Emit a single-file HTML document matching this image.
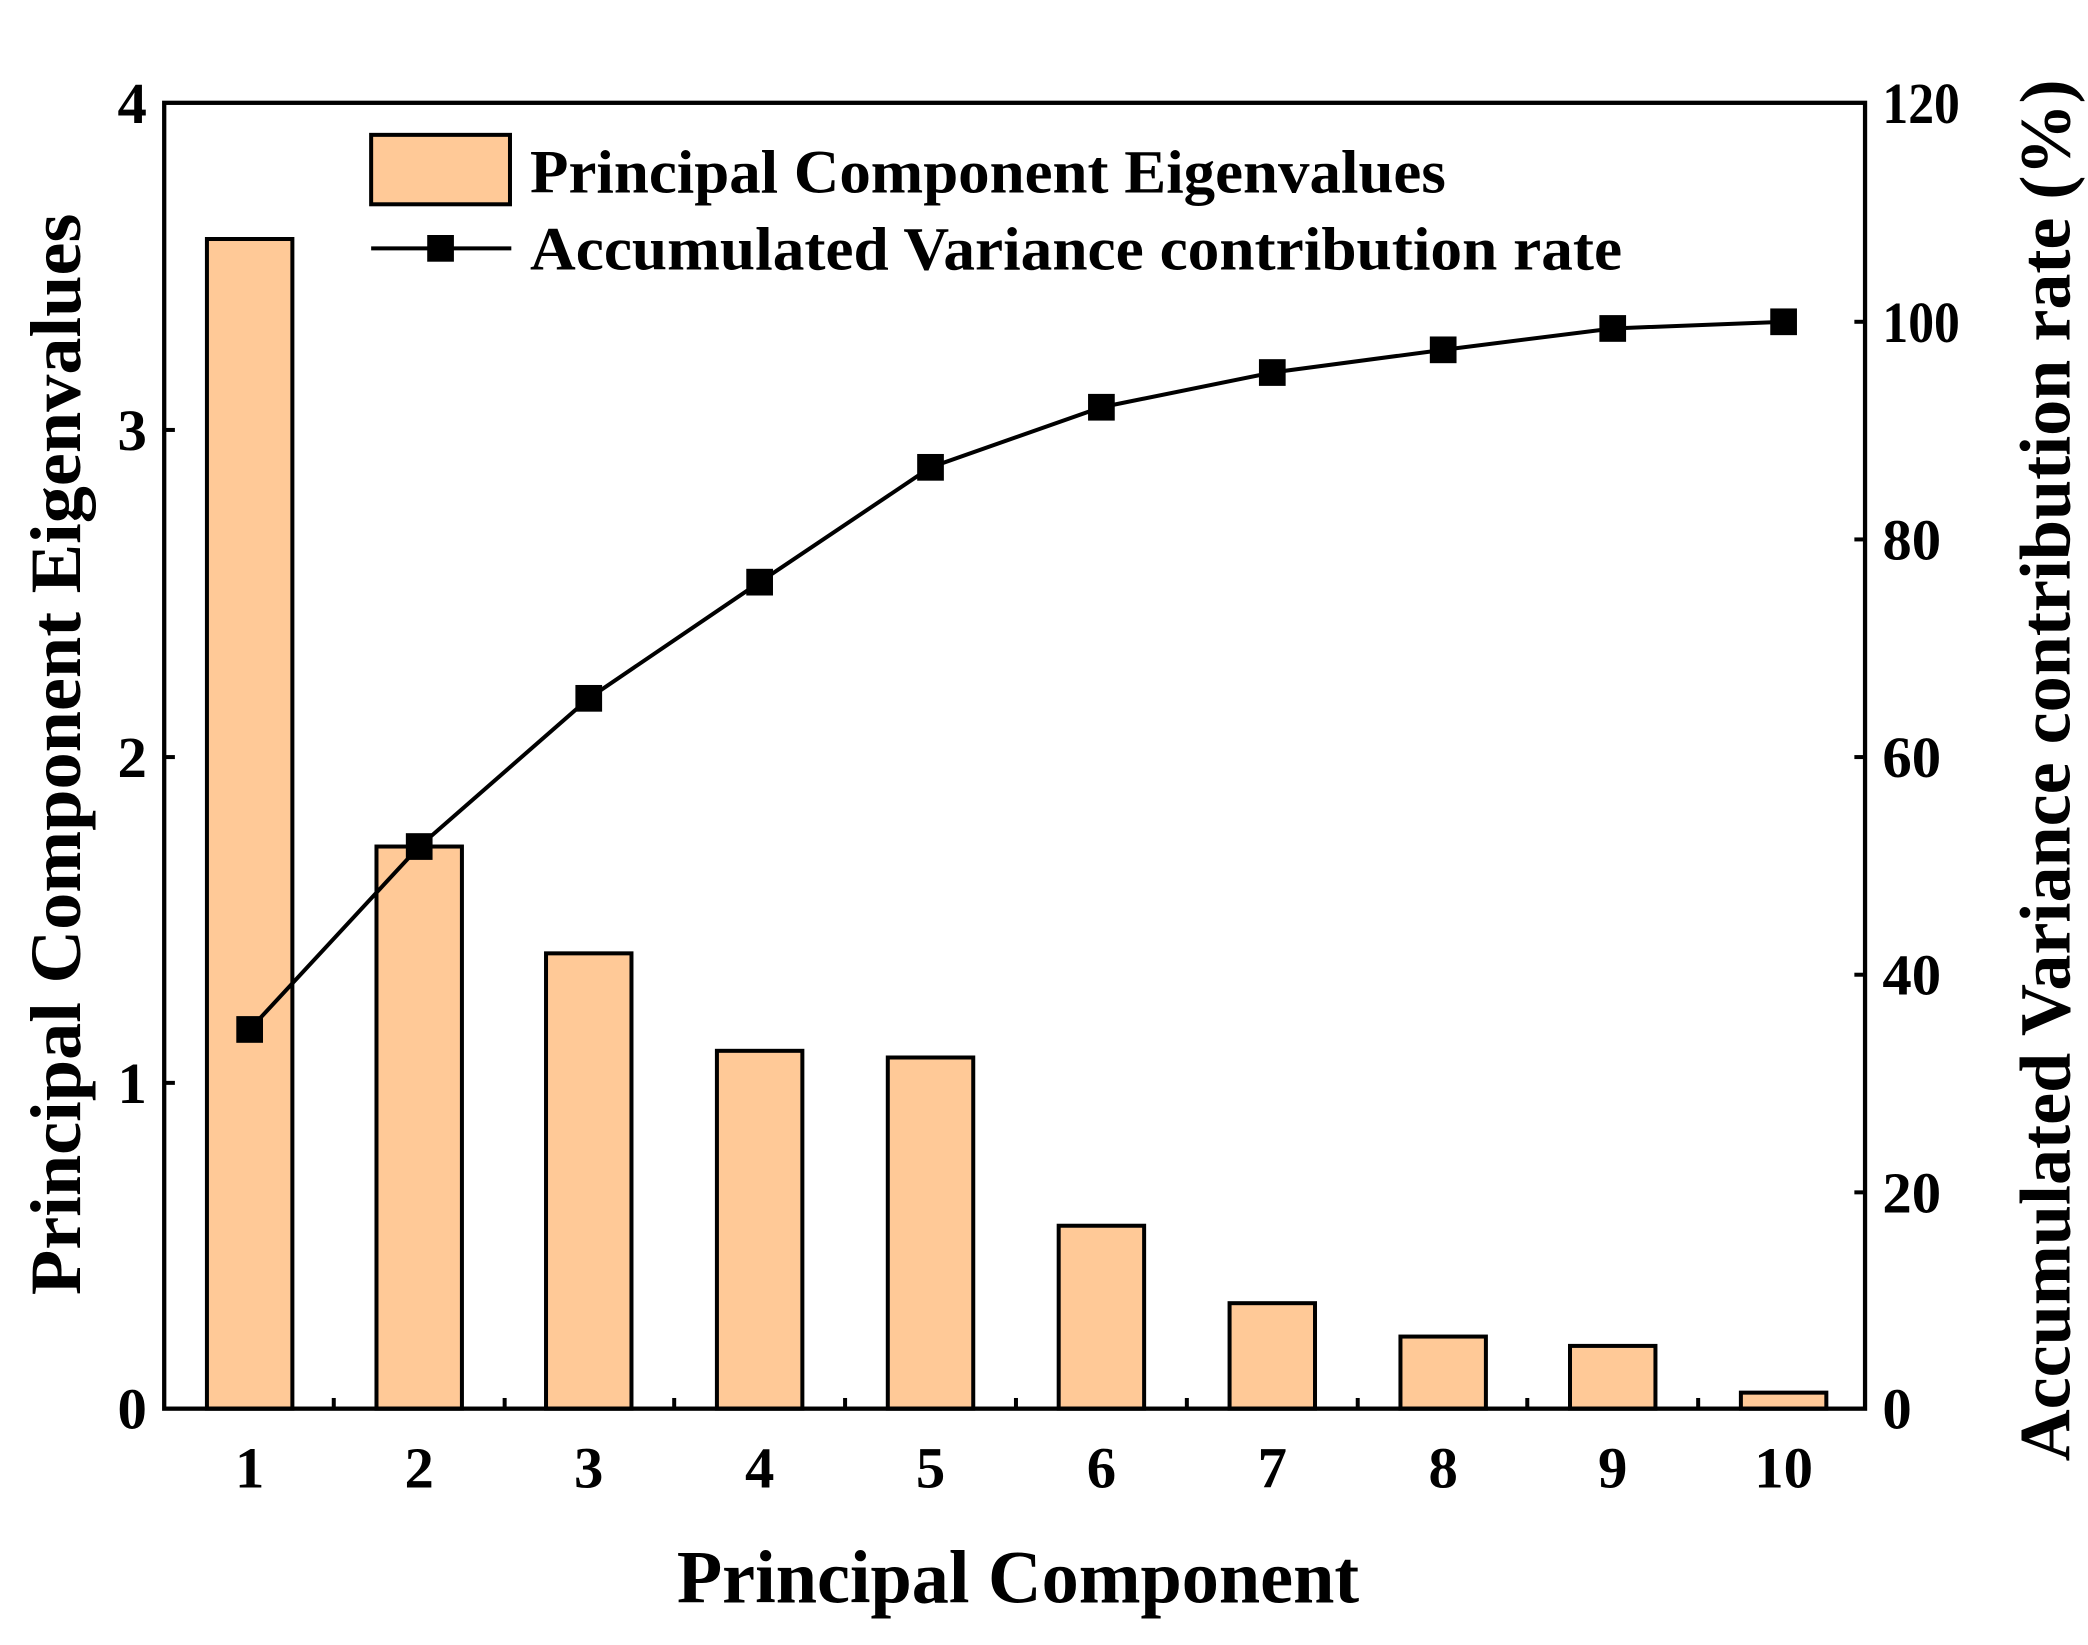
<!DOCTYPE html>
<html><head><meta charset="utf-8"><style>
html,body{margin:0;padding:0;background:#fff;}
svg{display:block;}
text{font-family:"Liberation Serif",serif;font-weight:bold;fill:#000;}
</style></head><body>
<svg width="2088" height="1645" viewBox="0 0 1564 1232" preserveAspectRatio="none" xmlns="http://www.w3.org/2000/svg">
<rect width="1564" height="1232" fill="#fff"/>
<g fill="#FFC997" stroke="#000" stroke-width="3">
<rect x="155" y="179" width="64" height="876"/>
<rect x="282" y="634" width="64" height="421"/>
<rect x="409" y="714" width="64" height="341"/>
<rect x="537" y="787" width="64" height="268"/>
<rect x="665" y="792" width="64" height="263"/>
<rect x="793" y="918" width="64" height="137"/>
<rect x="921" y="976" width="64" height="79"/>
<rect x="1049" y="1001" width="64" height="54"/>
<rect x="1176" y="1008" width="64" height="47"/>
<rect x="1304" y="1043" width="64" height="12"/>
</g>
<rect x="123" y="77" width="1274" height="978" fill="none" stroke="#000" stroke-width="3.2"/>
<g stroke="#000" stroke-width="3">
<line x1="123" y1="811" x2="131" y2="811"/><line x1="123" y1="567" x2="131" y2="567"/><line x1="123" y1="322" x2="131" y2="322"/>
<line x1="1397" y1="893" x2="1389" y2="893"/><line x1="1397" y1="730" x2="1389" y2="730"/><line x1="1397" y1="567" x2="1389" y2="567"/><line x1="1397" y1="404" x2="1389" y2="404"/><line x1="1397" y1="241" x2="1389" y2="241"/>
<line x1="250" y1="1055" x2="250" y2="1047"/><line x1="378" y1="1055" x2="378" y2="1047"/><line x1="505" y1="1055" x2="505" y2="1047"/><line x1="633" y1="1055" x2="633" y2="1047"/><line x1="761" y1="1055" x2="761" y2="1047"/><line x1="889" y1="1055" x2="889" y2="1047"/><line x1="1017" y1="1055" x2="1017" y2="1047"/><line x1="1144" y1="1055" x2="1144" y2="1047"/><line x1="1272" y1="1055" x2="1272" y2="1047"/>
</g>
<polyline fill="none" stroke="#000" stroke-width="3" points="187,771 314,634 441,523 569,436 697,350 825,305 953,279 1081,262 1208,246 1336,241"/>
<g fill="#000">
<rect x="177" y="761" width="20" height="20"/><rect x="304" y="624" width="20" height="20"/><rect x="431" y="513" width="20" height="20"/><rect x="559" y="426" width="20" height="20"/><rect x="687" y="340" width="20" height="20"/><rect x="815" y="295" width="20" height="20"/><rect x="943" y="269" width="20" height="20"/><rect x="1071" y="252" width="20" height="20"/><rect x="1198" y="236" width="20" height="20"/><rect x="1326" y="231" width="20" height="20"/>
</g>
<rect x="278" y="101" width="104" height="52" fill="#FFC997" stroke="#000" stroke-width="3"/>
<line x1="278" y1="186" x2="383" y2="186" stroke="#000" stroke-width="3"/>
<rect x="320" y="176" width="20" height="20" fill="#000"/>
<text x="397" y="144" font-size="46" textLength="686" lengthAdjust="spacingAndGlyphs">Principal Component Eigenvalues</text>
<text x="397" y="202" font-size="46" textLength="818" lengthAdjust="spacingAndGlyphs">Accumulated Variance contribution rate</text>
<g font-size="44" text-anchor="end">
<text x="110" y="92">4</text><text x="110" y="337">3</text><text x="110" y="582">2</text><text x="110" y="826">1</text><text x="110" y="1070">0</text>
</g>
<g font-size="44" text-anchor="start">
<text x="1410" y="92" textLength="58" lengthAdjust="spacingAndGlyphs">120</text><text x="1410" y="256" textLength="58" lengthAdjust="spacingAndGlyphs">100</text><text x="1410" y="419">80</text><text x="1410" y="582">60</text><text x="1410" y="745">40</text><text x="1410" y="908">20</text><text x="1410" y="1070">0</text>
</g>
<g font-size="44" text-anchor="middle">
<text x="187" y="1114">1</text><text x="314" y="1114">2</text><text x="441" y="1114">3</text><text x="569" y="1114">4</text><text x="697" y="1114">5</text><text x="825" y="1114">6</text><text x="953" y="1114">7</text><text x="1081" y="1114">8</text><text x="1208" y="1114">9</text><text x="1336" y="1114">10</text>
</g>
<text x="507" y="1200" font-size="56" textLength="511" lengthAdjust="spacingAndGlyphs">Principal Component</text>
<text transform="translate(60,565) rotate(-90)" font-size="54" text-anchor="middle" textLength="810" lengthAdjust="spacingAndGlyphs">Principal Component Eigenvalues</text>
<text transform="translate(1550,577) rotate(-90)" font-size="54" text-anchor="middle" textLength="1035" lengthAdjust="spacingAndGlyphs">Accumulated Variance contribution rate (%)</text>
</svg>
</body></html>
